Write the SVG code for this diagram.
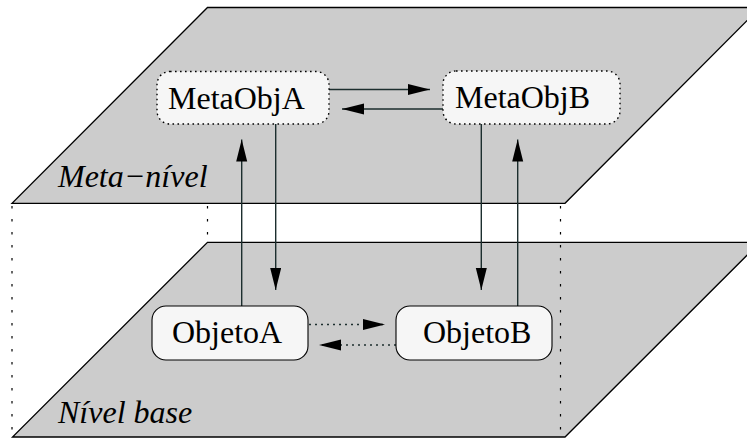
<svg xmlns="http://www.w3.org/2000/svg" width="747" height="438" viewBox="0 0 747 438">
<style>
.plane{fill:#cccccc;stroke:#000;stroke-width:1.3}
.guide{fill:none;stroke:#000;stroke-width:1.2;stroke-dasharray:2.5,10.5}
.box{fill:#f6f6f6;stroke:#000;stroke-width:1.1}
.mbox{fill:#f6f6f6;stroke:#000;stroke-width:1.4;stroke-dasharray:1.6,3.4}
.conn{fill:none;stroke:#1c2e2e;stroke-width:1.4}
.dot{fill:none;stroke:#1c2e2e;stroke-width:1.4;stroke-dasharray:2,4}
</style>
<defs>
<marker id="ah" markerUnits="userSpaceOnUse" markerWidth="23" markerHeight="12" refX="22" refY="5.5" orient="auto">
<path d="M0,0 L22,5.5 L0,11 z" fill="#000"/>
</marker>
</defs>
<g id="plane-base">
<polygon class="plane" points="207.5,242.3 760,242.3 565,437 12.5,437"/>
<text x="58" y="423" font-family="'Liberation Serif', 'DejaVu Serif', serif" font-size="32" font-style="italic" fill="#000">Nível base</text>
</g>
<g id="plane-meta">
<polygon class="plane" points="207.5,7.5 760,7.5 565,203.3 12,203.3"/>
<text x="58" y="187" font-family="'Liberation Serif', 'DejaVu Serif', serif" font-size="32" font-style="italic" fill="#000">Meta−nível</text>
</g>
<g id="guides">
<line class="guide" x1="12" y1="206" x2="12" y2="436"/>
<line class="guide" x1="207.5" y1="206" x2="207.5" y2="242"/>
<line class="guide" x1="560.5" y1="206" x2="560.5" y2="436"/>
</g>
<g id="connectors">
<line class="conn" x1="329" y1="89.5" x2="430" y2="89.5" marker-end="url(#ah)"/>
<line class="conn" x1="443" y1="109" x2="342" y2="109" marker-end="url(#ah)"/>
<line class="conn" x1="241.7" y1="306" x2="241.7" y2="139.5" marker-end="url(#ah)"/>
<line class="conn" x1="275.7" y1="124" x2="275.7" y2="290" marker-end="url(#ah)"/>
<line class="conn" x1="481.3" y1="124" x2="481.3" y2="290" marker-end="url(#ah)"/>
<line class="conn" x1="517.7" y1="306" x2="517.7" y2="139.5" marker-end="url(#ah)"/>
<line class="dot" x1="309" y1="324.5" x2="385" y2="324.5" marker-end="url(#ah)"/>
<line class="dot" x1="396" y1="345" x2="319" y2="345" marker-end="url(#ah)"/>
</g>
<g id="MetaObjA">
<rect class="mbox" x="157" y="71.5" width="172" height="52.5" rx="13"/>
<text x="168" y="109" font-family="'Liberation Serif', 'DejaVu Serif', serif" font-size="32" fill="#000">MetaObjA</text>
</g>
<g id="MetaObjB">
<rect class="mbox" x="443" y="71" width="177" height="53" rx="13"/>
<text x="455" y="108" font-family="'Liberation Serif', 'DejaVu Serif', serif" font-size="32" fill="#000">MetaObjB</text>
</g>
<g id="ObjetoA">
<rect class="box" x="152" y="306" width="156" height="54" rx="14"/>
<text x="172" y="343" font-family="'Liberation Serif', 'DejaVu Serif', serif" font-size="32" fill="#000">ObjetoA</text>
</g>
<g id="ObjetoB">
<rect class="box" x="396" y="306" width="156" height="54" rx="14"/>
<text x="423" y="343" font-family="'Liberation Serif', 'DejaVu Serif', serif" font-size="32" fill="#000">ObjetoB</text>
</g>
</svg>
